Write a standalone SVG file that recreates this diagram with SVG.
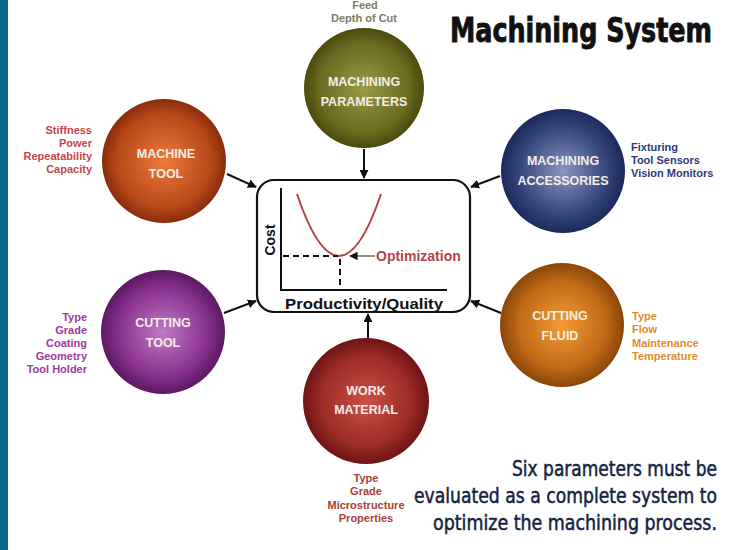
<svg xmlns="http://www.w3.org/2000/svg" width="731" height="550" viewBox="0 0 731 550">
<style>
.lbl{font-family:"Liberation Sans",Arial,sans-serif;font-weight:bold;font-size:11px}
.ctext{font-family:"Liberation Sans",Arial,sans-serif;font-weight:bold;font-size:12.5px;fill:#f4eee6;text-anchor:middle}
.conn{stroke:#111;stroke-width:2;fill:none;marker-end:url(#arr)}
.bottom{font-family:"DejaVu Sans Condensed","Liberation Sans Narrow","Liberation Sans",sans-serif;font-size:17.5px;fill:#14233f;stroke:#14233f;stroke-width:0.4;text-anchor:end}
</style>
<defs>
<marker id="arr" viewBox="0 0 10 10" refX="9" refY="5" markerWidth="4.5" markerHeight="4.5" orient="auto" markerUnits="strokeWidth">
<path d="M0,0 L10,5 L0,10 z" fill="#111"/>
</marker>
<marker id="arrs" viewBox="0 0 10 10" refX="9" refY="5" markerWidth="7" markerHeight="7" orient="auto" markerUnits="strokeWidth">
<path d="M0,0 L10,5 L0,10 z" fill="#111"/>
</marker>
<radialGradient id="gOlive" cx="50%" cy="50%" r="50%"><stop offset="0" stop-color="#9a9a48"/><stop offset="0.75" stop-color="#6a6a20"/><stop offset="1" stop-color="#4a4a0c"/></radialGradient>
<radialGradient id="gOrange" cx="50%" cy="50%" r="50%"><stop offset="0" stop-color="#ec7a3c"/><stop offset="0.75" stop-color="#b9481a"/><stop offset="1" stop-color="#8a2c0a"/></radialGradient>
<radialGradient id="gBlue" cx="50%" cy="50%" r="50%"><stop offset="0" stop-color="#8a96c0"/><stop offset="0.7" stop-color="#34467c"/><stop offset="1" stop-color="#1c2a5a"/></radialGradient>
<radialGradient id="gPurple" cx="50%" cy="50%" r="50%"><stop offset="0" stop-color="#c07ac4"/><stop offset="0.7" stop-color="#8a3290"/><stop offset="1" stop-color="#5c1862"/></radialGradient>
<radialGradient id="gAmber" cx="50%" cy="50%" r="50%"><stop offset="0" stop-color="#f49a34"/><stop offset="0.7" stop-color="#c06a16"/><stop offset="1" stop-color="#8a4608"/></radialGradient>
<radialGradient id="gRed" cx="50%" cy="50%" r="50%"><stop offset="0" stop-color="#cc5046"/><stop offset="0.7" stop-color="#9e2c28"/><stop offset="1" stop-color="#6e1414"/></radialGradient>
</defs>
<rect x="0" y="0" width="731" height="550" fill="#ffffff"/>
<rect x="0" y="0" width="8" height="550" fill="#0a6585"/>

<text transform="translate(712,42) scale(1,1.2)" font-family="'DejaVu Sans Condensed','Liberation Sans Narrow','Liberation Sans',sans-serif" font-weight="bold" font-size="28" fill="#111" stroke="#111" stroke-width="0.7" text-anchor="end" textLength="262" lengthAdjust="spacingAndGlyphs">Machining System</text>

<g id="connectors">
<path class="conn" d="M364,149 L364,178"/>
<path class="conn" d="M227,174 L256,187"/>
<path class="conn" d="M500,176 L471,187"/>
<path class="conn" d="M224,313 L256,301"/>
<path class="conn" d="M501,313 L471,301"/>
<path class="conn" d="M368,338 L368,314"/>
</g>

<g id="center">
<rect x="257" y="180" width="213" height="132" rx="17" fill="#fff" stroke="#111" stroke-width="2.2"/>
<path d="M281,188 L281,290 L447,290" fill="none" stroke="#111" stroke-width="2"/>
<path d="M297,194 Q339,318 381,194" fill="none" stroke="#b5434a" stroke-width="2"/>
<path d="M283,256 L338,256" stroke="#111" stroke-width="2" stroke-dasharray="6,4"/>
<path d="M340,259 L340,289" stroke="#111" stroke-width="2" stroke-dasharray="6,4"/>
<path d="M375,256 L350,256" stroke="#444" stroke-width="1.2" marker-end="url(#arrs)"/>
<text x="376" y="261" font-family="'Liberation Sans',Arial,sans-serif" font-weight="bold" font-size="14" fill="#b5434a">Optimization</text>
<text transform="translate(275,240) rotate(-90)" font-family="'Liberation Sans',Arial,sans-serif" font-weight="bold" font-size="14" fill="#111" text-anchor="middle">Cost</text>
<text x="364" y="309" font-family="'Liberation Sans',Arial,sans-serif" font-weight="bold" font-size="15" fill="#111" text-anchor="middle" textLength="158" lengthAdjust="spacingAndGlyphs">Productivity/Quality</text>
</g>

<g id="machining-parameters">
<circle cx="364" cy="88" r="60" fill="url(#gOlive)"/>
<text class="ctext" x="364" y="86">MACHINING</text>
<text class="ctext" x="364" y="106">PARAMETERS</text>
<text class="lbl" x="365" y="9" fill="#7c7c62" text-anchor="middle">Feed</text>
<text class="lbl" x="364" y="22" fill="#7c7c62" text-anchor="middle">Depth of Cut</text>
</g>

<g id="machine-tool">
<circle cx="164" cy="161" r="62" fill="url(#gOrange)"/>
<text class="ctext" x="166" y="158">MACHINE</text>
<text class="ctext" x="166" y="178">TOOL</text>
<g class="lbl" fill="#c4464a" text-anchor="end">
<text x="92" y="134">Stiffness</text>
<text x="92" y="147">Power</text>
<text x="92" y="160">Repeatability</text>
<text x="92" y="173">Capacity</text>
</g>
</g>

<g id="machining-accessories">
<circle cx="563" cy="171" r="62" fill="url(#gBlue)"/>
<text class="ctext" x="563" y="165">MACHINING</text>
<text class="ctext" x="563" y="185">ACCESSORIES</text>
<g class="lbl" fill="#2e3a7a">
<text x="631" y="151">Fixturing</text>
<text x="631" y="164">Tool Sensors</text>
<text x="631" y="177">Vision Monitors</text>
</g>
</g>

<g id="cutting-tool">
<circle cx="163" cy="332" r="62" fill="url(#gPurple)"/>
<text class="ctext" x="163" y="327">CUTTING</text>
<text class="ctext" x="163" y="347">TOOL</text>
<g class="lbl" fill="#9b3a9b" text-anchor="end">
<text x="87" y="321">Type</text>
<text x="87" y="334">Grade</text>
<text x="87" y="347">Coating</text>
<text x="87" y="360">Geometry</text>
<text x="87" y="373">Tool Holder</text>
</g>
</g>

<g id="cutting-fluid">
<circle cx="562" cy="325" r="62" fill="url(#gAmber)"/>
<text class="ctext" x="560" y="320">CUTTING</text>
<text class="ctext" x="560" y="340">FLUID</text>
<g class="lbl" fill="#e38a2a">
<text x="632" y="320">Type</text>
<text x="632" y="333">Flow</text>
<text x="632" y="347">Maintenance</text>
<text x="632" y="360">Temperature</text>
</g>
</g>

<g id="work-material">
<circle cx="366" cy="401" r="63" fill="url(#gRed)"/>
<text class="ctext" x="366" y="395">WORK</text>
<text class="ctext" x="366" y="414">MATERIAL</text>
<g class="lbl" fill="#a8403a" text-anchor="middle">
<text x="366" y="482">Type</text>
<text x="366" y="495">Grade</text>
<text x="366" y="509">Microstructure</text>
<text x="366" y="522">Properties</text>
</g>
</g>

<g id="caption">
<text class="bottom" transform="translate(717,476) scale(1,1.18)" textLength="205" lengthAdjust="spacingAndGlyphs">Six parameters must be</text>
<text class="bottom" transform="translate(717,503) scale(1,1.18)" textLength="303" lengthAdjust="spacingAndGlyphs">evaluated as a complete system to</text>
<text class="bottom" transform="translate(717,530) scale(1,1.18)" textLength="284" lengthAdjust="spacingAndGlyphs">optimize the machining process.</text>
</g>
</svg>
